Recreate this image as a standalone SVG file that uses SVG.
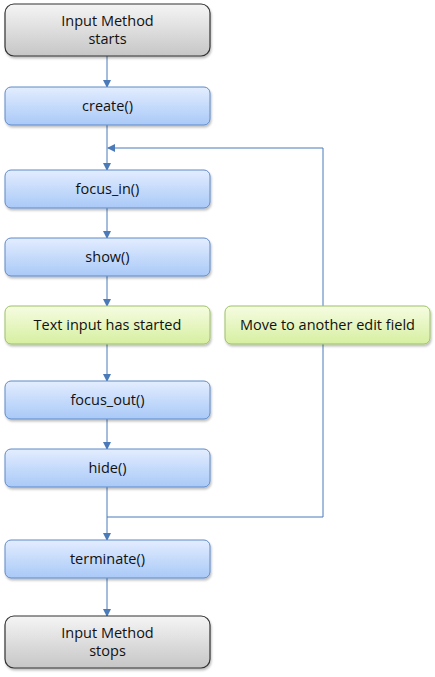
<svg xmlns="http://www.w3.org/2000/svg" width="435" height="677" viewBox="0 0 435 677">
<defs>
<linearGradient id="gGray" x1="0" y1="0" x2="0" y2="1"><stop offset="0" stop-color="#f5f5f5"/><stop offset="1" stop-color="#c6c6c6"/></linearGradient>
<linearGradient id="gBlue" x1="0" y1="0" x2="0" y2="1"><stop offset="0" stop-color="#e3edff"/><stop offset="1" stop-color="#a9c9f7"/></linearGradient>
<linearGradient id="gGreen" x1="0" y1="0" x2="0" y2="1"><stop offset="0" stop-color="#f6fce2"/><stop offset="1" stop-color="#d6efa0"/></linearGradient>
<filter id="sh" x="-10%" y="-20%" width="120%" height="150%"><feDropShadow dx="1" dy="2" stdDeviation="1.2" flood-color="#000" flood-opacity="0.25"/></filter>
<marker id="arr" markerWidth="8" markerHeight="8" refX="7" refY="4" orient="auto" markerUnits="userSpaceOnUse"><path d="M0,0 L8,4 L0,8 z" fill="#4a7ab8"/></marker>
</defs>
<style>
.term{fill:url(#gGray);stroke:#333;stroke-width:1.2;filter:url(#sh)}
.proc{fill:url(#gBlue);stroke:#5f8ac8;stroke-width:1;filter:url(#sh)}
.note{fill:url(#gGreen);stroke:#9dc167;stroke-width:1;filter:url(#sh)}
text{font-family:"Open Sans","Noto Sans","Liberation Sans",sans-serif;font-size:14.5px;fill:#111;text-anchor:middle}
.c{fill:none;stroke:#4a7ab8;stroke-width:1}
.l{fill:none;stroke:#4a7ab8;stroke-width:1;marker-end:url(#arr)}
</style>
<g id="connectors">
<line class="l" x1="107" y1="56" x2="107" y2="87"/>
<line class="l" x1="107" y1="125" x2="107" y2="170"/>
<line class="l" x1="107" y1="208" x2="107" y2="238"/>
<line class="l" x1="107" y1="276" x2="107" y2="306"/>
<line class="l" x1="107" y1="344" x2="107" y2="381"/>
<line class="l" x1="107" y1="419" x2="107" y2="449"/>
<line class="l" x1="107" y1="487" x2="107" y2="540"/>
<line class="l" x1="107" y1="578" x2="107" y2="616"/>
<polyline class="l" points="107,517 323,517 323,148 108,148"/>
</g>
<g id="start"><rect class="term" x="5" y="4" width="205" height="52" rx="9"/><text x="107.5" y="26">Input Method</text><text x="107.5" y="44">starts</text></g>
<g id="create"><rect class="proc" x="5" y="87" width="205" height="38" rx="6"/><text x="107.5" y="111">create()</text></g>
<g id="focus_in"><rect class="proc" x="5" y="170" width="205" height="38" rx="6"/><text x="107.5" y="194">focus_in()</text></g>
<g id="show"><rect class="proc" x="5" y="238" width="205" height="38" rx="6"/><text x="107.5" y="262">show()</text></g>
<g id="text_input"><rect class="note" x="5" y="306" width="205" height="38" rx="6"/><text x="107.5" y="330">Text input has started</text></g>
<g id="move"><rect class="note" x="225" y="306" width="205" height="38" rx="6"/><text x="327.5" y="330">Move to another edit field</text></g>
<g id="focus_out"><rect class="proc" x="5" y="381" width="205" height="38" rx="6"/><text x="107.5" y="405">focus_out()</text></g>
<g id="hide"><rect class="proc" x="5" y="449" width="205" height="38" rx="6"/><text x="107.5" y="473">hide()</text></g>
<g id="terminate"><rect class="proc" x="5" y="540" width="205" height="38" rx="6"/><text x="107.5" y="564">terminate()</text></g>
<g id="stop"><rect class="term" x="5" y="616" width="205" height="52" rx="9"/><text x="107.5" y="638">Input Method</text><text x="107.5" y="656">stops</text></g>
</svg>
